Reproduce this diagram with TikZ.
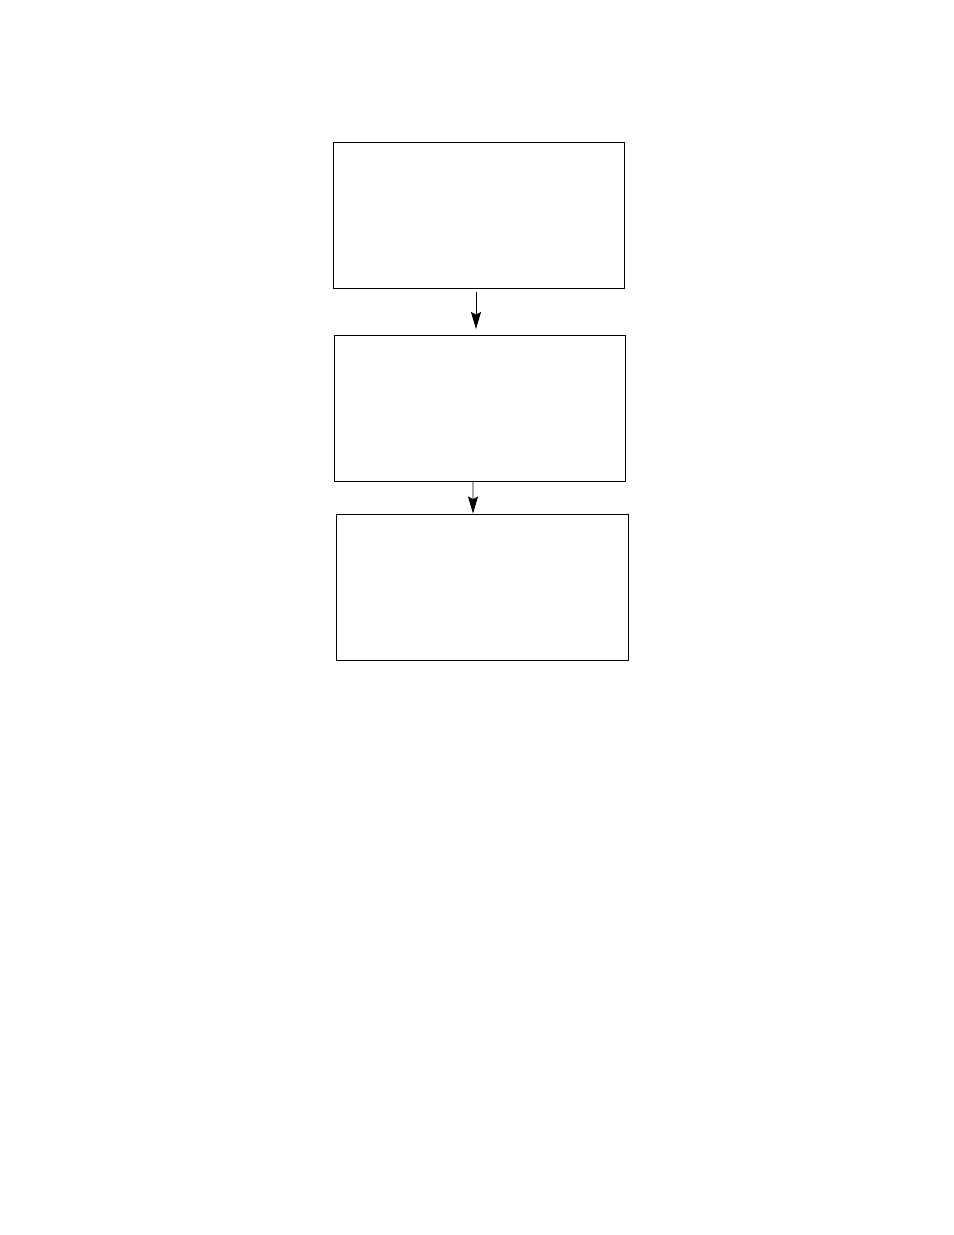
\documentclass[tikz,border=0pt]{standalone}
\usetikzlibrary{arrows.meta}

\begin{document}
\begin{tikzpicture}[x=0.02cm, y=-0.02cm,
    box/.style={rectangle, draw, line width=0.55pt, minimum width=5.84cm, minimum height=2.92cm},
    flow/.style={-{Stealth[length=0.34cm, width=0.2cm, inset=0.05cm]}, line width=0.55pt}]
    \useasboundingbox (0, 0) rectangle (954, 1235);

    % ボックス
    \node[box] (first) at (479, 215) {};
    \node[box] (second) at (480, 408.5) {};
    \node[box] (third) at (482.5, 587) {};

    % 矢印
    \draw[flow, shorten <=0.08cm, shorten >=0.12cm] ([xshift=-0.06cm]first.south) -- ([xshift=-0.08cm]second.north);
    \draw[flow] ([xshift=-0.14cm]second.south) -- ([xshift=-0.19cm]third.north);
\end{tikzpicture}
\end{document}
